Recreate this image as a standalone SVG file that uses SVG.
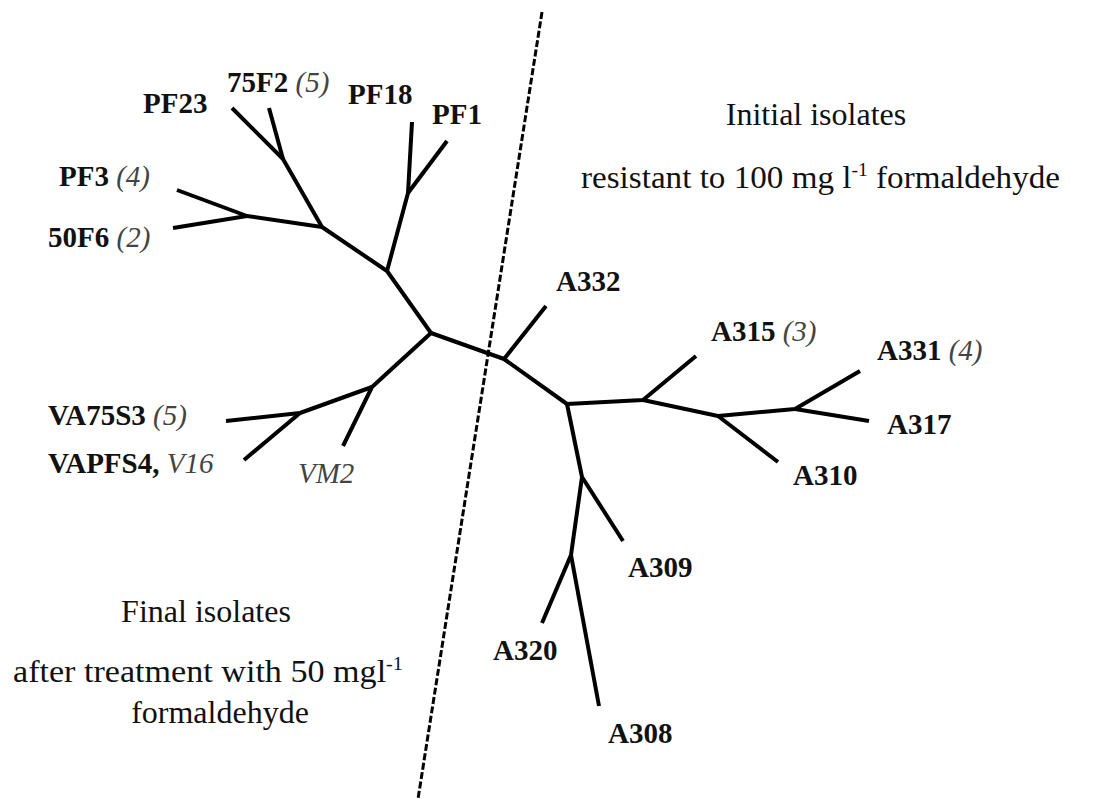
<svg xmlns="http://www.w3.org/2000/svg" width="1093" height="799" viewBox="0 0 1093 799">
<style>
.e{stroke:#000;stroke-width:4;fill:none;stroke-linecap:butt;stroke-linejoin:round}
.d{stroke:#000;stroke-width:3;fill:none;stroke-dasharray:7 2.5}
.b{font-family:"Liberation Serif","Times New Roman",serif;font-weight:bold;font-size:29px;fill:#111}
.i{font-style:italic;font-weight:normal;fill:#444}
.t{font-family:"Liberation Serif","Times New Roman",serif;font-size:32px;fill:#111}
.s{font-size:19px}
</style>
<rect width="1093" height="799" fill="#fff"/>
<g id="divider"><line class="d" x1="542" y1="12" x2="418" y2="799"/></g>
<g id="connectors">
<path class="e" d="M431,333 L387,271 L322,227 L283,159 L232,108"/>
<path class="e" d="M283,159 L269,108"/>
<path class="e" d="M322,227 L247,216 L177,190"/>
<path class="e" d="M247,216 L173,228"/>
<path class="e" d="M387,271 L408,193 L412,122"/>
<path class="e" d="M408,193 L447,141"/>
<path class="e" d="M431,333 L372,387 L343,446"/>
<path class="e" d="M372,387 L300,413 L226,421"/>
<path class="e" d="M300,413 L244,460"/>
<path class="e" d="M431,333 L504,359 L546,306"/>
<path class="e" d="M504,359 L567,404 L643,400 L696,356"/>
<path class="e" d="M643,400 L718,416 L778,462"/>
<path class="e" d="M718,416 L795,409 L860,371"/>
<path class="e" d="M795,409 L869,421"/>
<path class="e" d="M567,404 L582,477 L623,541"/>
<path class="e" d="M582,477 L571,555 L542,623"/>
<path class="e" d="M571,555 L599,706"/>
</g>
<g id="PF23"><text class="b" x="143" y="113">PF23</text></g>
<g id="n75F2"><text class="b" x="227" y="92">75F2 <tspan class="i">(5)</tspan></text></g>
<g id="PF18"><text class="b" x="348" y="104">PF18</text></g>
<g id="PF1"><text class="b" x="432" y="124">PF1</text></g>
<g id="PF3"><text class="b" x="59" y="186">PF3 <tspan class="i">(4)</tspan></text></g>
<g id="n50F6"><text class="b" x="48" y="247">50F6 <tspan class="i">(2)</tspan></text></g>
<g id="VA75S3"><text class="b" x="48" y="425">VA75S3 <tspan class="i">(5)</tspan></text></g>
<g id="VAPFS4"><text class="b" x="48" y="473">VAPFS4, <tspan class="i">V16</tspan></text></g>
<g id="VM2"><text class="b i" x="298" y="483">VM2</text></g>
<g id="A332"><text class="b" x="556" y="291">A332</text></g>
<g id="A315"><text class="b" x="711" y="341">A315 <tspan class="i">(3)</tspan></text></g>
<g id="A331"><text class="b" x="877" y="360">A331 <tspan class="i">(4)</tspan></text></g>
<g id="A317"><text class="b" x="887" y="434">A317</text></g>
<g id="A310"><text class="b" x="793" y="485">A310</text></g>
<g id="A309"><text class="b" x="628" y="577">A309</text></g>
<g id="A320"><text class="b" x="493" y="660">A320</text></g>
<g id="A308"><text class="b" x="608" y="743">A308</text></g>
<g id="initial-label">
<text class="t" x="816" y="125" text-anchor="middle">Initial isolates</text>
<text class="t" x="581" y="188" textLength="479" lengthAdjust="spacingAndGlyphs">resistant to 100 mg l<tspan class="s" dy="-12">-1</tspan><tspan dy="12"> formaldehyde</tspan></text>
</g>
<g id="final-label">
<text class="t" x="206" y="622" text-anchor="middle">Final isolates</text>
<text class="t" x="13" y="682" textLength="390" lengthAdjust="spacingAndGlyphs">after treatment with 50 mgl<tspan class="s" dy="-12">-1</tspan></text>
<text class="t" x="220" y="723" text-anchor="middle">formaldehyde</text>
</g>
</svg>
